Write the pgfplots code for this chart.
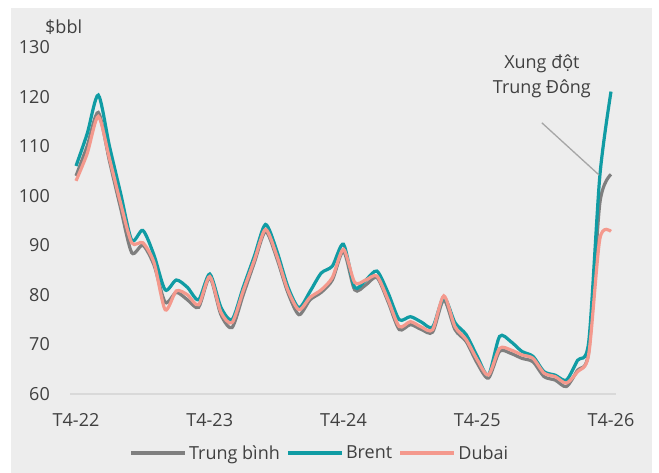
\documentclass[border=0pt]{standalone}
\usepackage{pgfplots}
\pgfplotsset{compat=1.18}
\usepackage{fontspec}
\setmainfont{Open Sans}
\definecolor{bg}{RGB}{237,237,237}
\definecolor{txt}{RGB}{64,64,64}
\definecolor{cgray}{RGB}{127,127,127}
\definecolor{cbrent}{RGB}{16,156,164}
\definecolor{cdubai}{RGB}{244,153,141}
\definecolor{cbase}{RGB}{217,217,217}
\definecolor{cpoint}{RGB}{166,166,166}
\begin{document}
\begin{tikzpicture}[x=1pt,y=1pt,font=\fontsize{18}{22}\selectfont]
\fill[bg] (11,0) rectangle (652,465);
\useasboundingbox (0,0) rectangle (659,473);
\node[anchor=west,inner sep=0pt,text=txt] at (45,446) {\$bbl};
\begin{axis}[
  at={(70pt,79pt)}, anchor=south west,
  scale only axis, width=546pt, height=347pt,
  xmin=-0.54, xmax=48.45, ymin=60, ymax=130,
  axis x line*=bottom, axis y line*=left,
  x axis line style={draw=cbase, line width=1.3pt},
  y axis line style={draw=none},
  major tick length=0pt,
  xtick={0,12,24,36,48},
  xticklabels={T4-22,T4-23,T4-24,T4-25,T4-26},
  ytick={60,70,80,90,100,110,120,130},
  /pgf/number format/assume math mode=true,
  tick label style={font=\fontsize{18}{22}\selectfont, text=txt},
  yticklabel style={anchor=east, inner sep=0pt, xshift=-20pt},
  xticklabel style={anchor=north, inner sep=0pt, yshift=-19pt},
  legend style={at={(0.458,-0.170)}, anchor=center, draw=none, fill=none,
    legend columns=3, font=\fontsize{18}{22}\selectfont, text=txt,
    nodes={inner sep=2.5pt},
    /tikz/every even column/.append style={column sep=4pt}},
  legend image code/.code={\draw[#1] (0pt,0pt) -- (54pt,0pt);},
  every axis plot/.append style={line width=3.2pt, smooth, tension=0.45},
  clip=false,
]
\addplot[cgray] coordinates {
(0,104) (1,110) (2,116.8) (3,107) (4,97.5) (5,88.5) (6,90) (7,86) (8,78.5) (9,80.5)
(10,79) (11,77.5) (12,83.5) (13,76) (14,73.4) (15,80) (16,86.5) (17,92.8) (18,87.5) (19,80.5)
(20,76) (21,79) (22,80.5) (23,83) (24,88.8) (25,81) (26,82) (27,83.5) (28,78.6) (29,73)
(30,74) (31,73) (32,72.5) (33,79) (34,73) (35,70.6) (36,66.2) (37,63.2) (38,68.6) (39,68.2)
(40,67.2) (41,66.5) (42,63.5) (43,62.8) (44,61.5) (45,64.8) (46,68.5) (47,98.5) (48,104.3)
};
\addlegendentry{Trung bình}
\addplot[cbrent] coordinates {
(0,106) (1,112.5) (2,120.3) (3,110) (4,100.5) (5,91) (6,93) (7,88) (8,81) (9,83)
(10,81.5) (11,79) (12,84.2) (13,77.5) (14,75) (15,81.5) (16,87.8) (17,94.2) (18,89) (19,81.7)
(20,77.4) (21,80.7) (22,84.4) (23,85.8) (24,90.2) (25,81.5) (26,83) (27,84.8) (28,80.4) (29,75)
(30,75.6) (31,74.5) (32,73.5) (33,79.5) (34,74.4) (35,72) (36,67.6) (37,63.8) (38,71.6) (39,70.6)
(40,68.6) (41,67.6) (42,64.5) (43,63.8) (44,62.8) (45,66.8) (46,70.5) (47,104) (48,121)
};
\addlegendentry{Brent}
\addplot[cdubai] coordinates {
(0,103) (1,108.5) (2,116) (3,107.5) (4,98.5) (5,90.5) (6,90.5) (7,86.5) (8,77) (9,80.8)
(10,80) (11,78) (12,83.7) (13,76.5) (14,74.4) (15,80.8) (16,87) (17,93.2) (18,88) (19,81)
(20,77) (21,79.5) (22,81) (23,83.5) (24,89.2) (25,82.5) (26,83) (27,83.8) (28,79) (29,73.6)
(30,74.6) (31,73.5) (32,73) (33,79.8) (34,73.6) (35,71) (36,66.9) (37,63.8) (38,69.2) (39,68.9)
(40,67.9) (41,67.2) (42,64.2) (43,63.5) (44,62.2) (45,64.5) (46,68) (47,91.3) (48,92.8)
};
\addlegendentry{Dubai}
\draw[cpoint, line width=1.3pt] (axis cs:41.8,114.7) -- (axis cs:46.92,104.2);
\node[align=center, text=txt, font=\fontsize{18}{25}\selectfont] at (axis cs:41.8,124.1) {Xung đột\\Trung Đông};
\end{axis}
\end{tikzpicture}
\end{document}
